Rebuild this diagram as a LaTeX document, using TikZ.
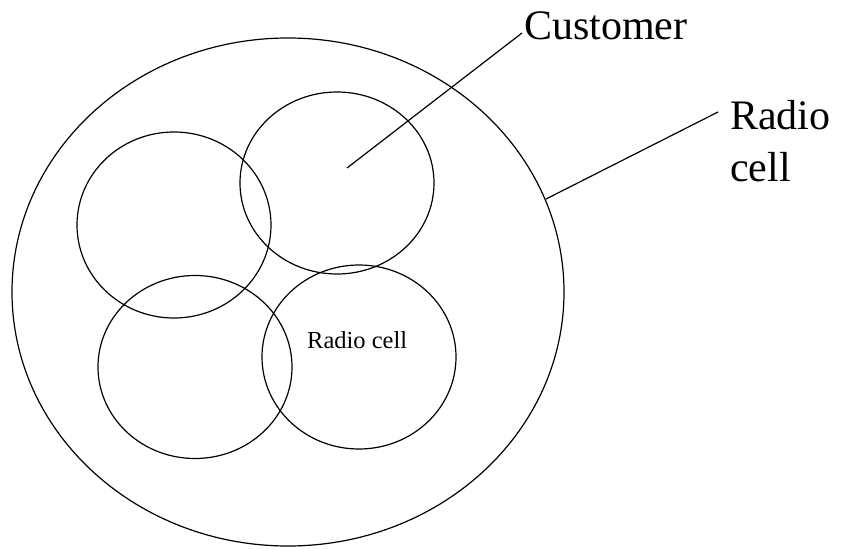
\documentclass[tikz,border=0pt]{standalone}
\usepackage{fontspec}
\setmainfont{Liberation Serif}
\usetikzlibrary{shapes.geometric}
\begin{document}
\begin{tikzpicture}[x=1pt,y=-1pt,
  cell/.style={draw,ellipse,line width=1.2pt,inner sep=0pt,outer sep=0pt},
  leader/.style={line width=1.2pt},
  bigtext/.style={font=\fontsize{42}{52}\selectfont,inner sep=0pt,anchor=base west},
  smalltext/.style={font=\fontsize{24.5}{29}\selectfont,inner sep=0pt,anchor=base west}]
  \useasboundingbox (0,0) rectangle (841,549);
  % outer coverage area
  \node[cell,minimum width=552pt,minimum height=508pt] (outer) at (288,292) {};
  % four overlapping sub-cells
  \node[cell,minimum width=194pt,minimum height=186pt] (c1) at (174,225) {};
  \node[cell,minimum width=194pt,minimum height=182pt] (c2) at (337,183) {};
  \node[cell,minimum width=194pt,minimum height=183pt] (c3) at (195,367) {};
  \node[cell,minimum width=194pt,minimum height=184pt] (c4) at (359,357) {};
  % labels
  \node[smalltext] (inner) at (307,348) {Radio cell};
  \node[bigtext] (customer) at (524,39) {Customer};
  % base anchor of a multi-line node sits on its last line
  \node[bigtext,align=left] (radio) at (730,181) {Radio\\cell};
  % leader lines
  \coordinate (custpt) at (347,168);
  \coordinate (rimpt) at (546,199);
  \draw[leader] (custpt) -- ([xshift=-2pt,yshift=6pt]customer.base west);
  \draw[leader] (rimpt) -- ([xshift=-12pt,yshift=69pt]radio.base west);
\end{tikzpicture}
\end{document}
